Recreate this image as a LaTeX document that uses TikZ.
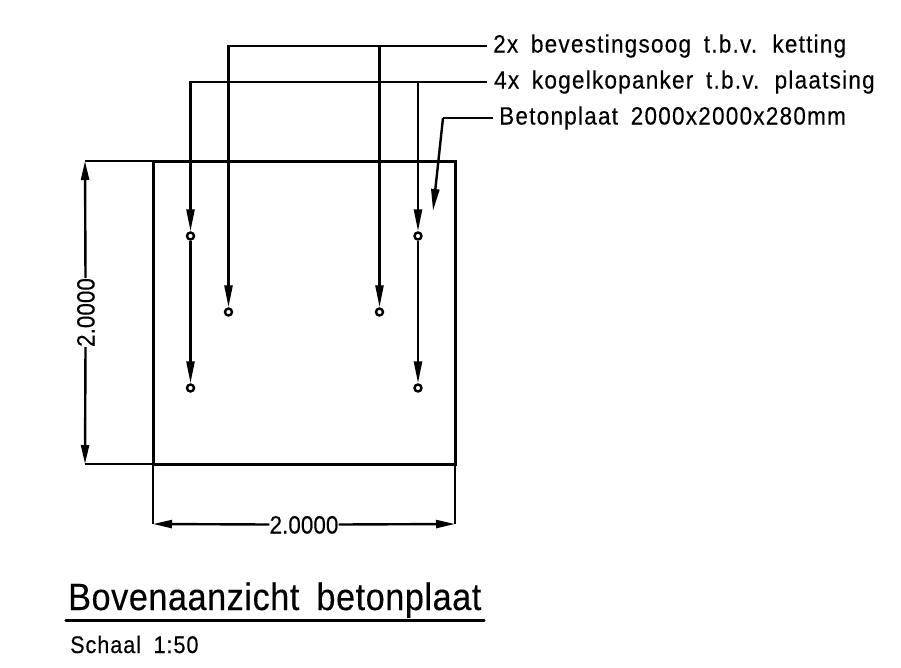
\documentclass[tikz,border=0pt]{standalone}
\usepackage{fontspec}
\setmainfont{Liberation Sans}[FakeStretch=0.9,FakeBold=0.3,LetterSpace=5,WordSpace=1.7,Ligatures=NoCommon]
\newfontfamily\dimfont{Liberation Sans}[FakeStretch=0.9,FakeBold=0.3,LetterSpace=0,Ligatures=NoCommon]
\newfontfamily\titlefont{Liberation Sans}[FakeStretch=0.9,FakeBold=0.3,LetterSpace=1.5,WordSpace=1.7,Ligatures=NoCommon]
\newfontfamily\scalefont{Liberation Sans}[FakeStretch=0.9,FakeBold=0.3,LetterSpace=4,WordSpace=1.8,Ligatures=NoCommon]
\usetikzlibrary{arrows.meta,calc}
\tikzset{
  x=1pt,y=-1pt,
  plate/.style={draw=black,line width=3pt,rectangle,minimum width=302pt,minimum height=303pt,inner sep=0pt,outer sep=0pt},
  hole/.style={circle,draw=black,fill=white,line width=2.4pt,minimum size=7pt,inner sep=0pt},
  lead/.style={draw=black,line width=2.4pt,-{Triangle[length=22pt,width=8pt]}},
  leadplain/.style={draw=black,line width=2.4pt},
  ext/.style={draw=black,line width=2.4pt},
  dimen/.style={draw=black,line width=2.4pt,-{Triangle[length=19pt,width=8pt]}},
  lab/.style={anchor=west,inner sep=0pt,font=\fontsize{25}{30}\selectfont,text height=19pt,text depth=6pt},
  diml/.style={inner sep=0pt,font=\dimfont\fontsize{25}{30}\selectfont,text height=18pt,text depth=0pt},
}
\begin{document}
\begin{tikzpicture}
\useasboundingbox (0,0) rectangle (901,667);
\node[plate] (plate) at (304,312.5) {};
\node[hole] (a1) at (190.5,236) {};
\node[hole] (a2) at (190.5,388) {};
\node[hole] (a3) at (418,236) {};
\node[hole] (a4) at (418,388) {};
\node[hole] (e1) at (228.5,312) {};
\node[hole] (e2) at (379.5,312) {};
\node[lab] (l1) at (493,46) {2x bevestingsoog t.b.v. ketting};
\node[lab] (l2) at (494,82) {4x kogelkopanker t.b.v. plaatsing};
\node[lab] (l3) at (499,118) {Betonplaat 2000x2000x280mm};
\coordinate (l1e) at ($(l1.west)+(-6,0)$);
\coordinate (l2e) at ($(l2.west)+(-7,0)$);
\coordinate (l3e) at ($(l3.west)+(-6,0)$);
\coordinate (knee) at (443,118);
\coordinate (tip) at (433,211);
\draw[lead] (l1e) -| (e1.north);
\draw[lead] (e2.north |- l1e) -- (e2.north);
\draw[lead] (l2e) -| (a1.north);
\draw[lead] (a3.north |- l2e) -- (a3.north);
\draw[lead] (a1.south) -- (a2.north);
\draw[lead] (a3.south) -- (a4.north);
\draw[leadplain] (l3e) -- (knee);
\draw[lead] (knee) -- (tip);
% dimensions
\coordinate (dt) at (85,161);
\coordinate (db) at (85,464);
\coordinate (dl) at (153,524);
\coordinate (dr) at (455,524);
\draw[ext] (plate.north west) -- (dt);
\draw[ext] (plate.south west) -- (db);
\draw[ext] (plate.south west) -- (dl);
\draw[ext] (plate.south east) -- (dr);
\node[diml,rotate=90] (dv) at (85.5,312.5) {2.0000};
\node[diml] (dh) at (304,524.5) {2.0000};
\draw[dimen] (dv.east) -- (dt);
\draw[dimen] (dv.west) -- (db);
\draw[dimen] (dh.west) -- (dl);
\draw[dimen] (dh.east) -- (dr);
% title
\node[anchor=base west,inner sep=0pt,font=\titlefont\fontsize{38}{46}\selectfont] (title) at (68,610) {Bovenaanzicht betonplaat};
\coordinate (rl) at (66,620.7);
\coordinate (rr) at (484,620.7);
\draw[draw=black,line width=3.4pt,line cap=round] (rl) -- (rr);
\node[anchor=base west,inner sep=0pt,font=\scalefont\fontsize{24}{30}\selectfont] (scale) at (70,653) {Schaal 1:50};
\end{tikzpicture}
\end{document}
